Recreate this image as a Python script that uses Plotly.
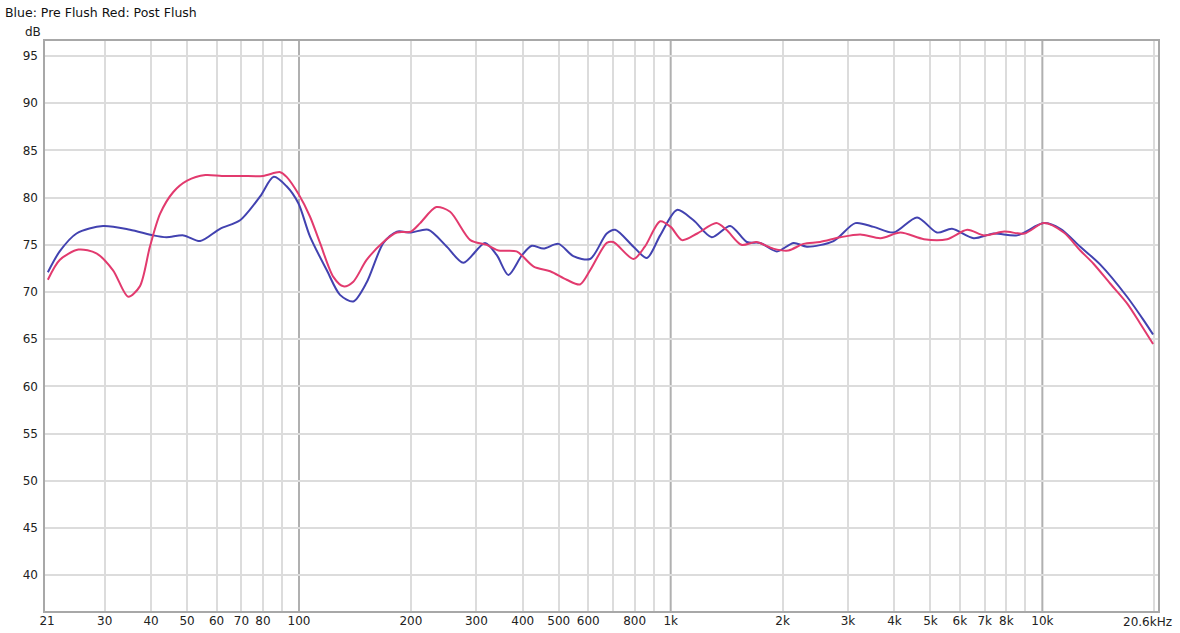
import numpy as np
import plotly.graph_objects as go

# ---- data ----
blue_freq = [21.1, 22.7, 25.2, 29.7, 35.1, 40.5, 44.0, 48.9, 54.2, 61.3, 69.4, 78.5, 85.5, 92.6, 99.6,
             107, 118.8, 128.9, 140, 152, 168.7, 183.3, 200, 222.7, 249.9, 276.8, 316.6, 340.6, 366,
             398, 423, 454.6, 499, 547, 607, 673, 709, 794, 863, 937, 1040, 1152, 1290, 1446, 1603,
             1741, 1931, 2142, 2326, 2743, 3139, 3517, 3981, 4603, 5206, 5714, 6535, 7397, 8551,
             10090, 11180, 12650, 14320, 16900, 18740, 19860]
blue_db = [72.1, 74.3, 76.2, 77.0, 76.6, 76.0, 75.8, 76.0, 75.4, 76.7, 77.6, 80.1, 82.2, 81.2, 79.4,
           75.9, 72.3, 69.7, 69.0, 71.0, 75.2, 76.4, 76.3, 76.6, 74.8, 73.1, 75.2, 73.9, 71.8,
           73.9, 74.9, 74.6, 75.1, 73.8, 73.5, 76.2, 76.6, 74.8, 73.6, 76.0, 78.7, 77.6, 75.8, 77.0, 75.3,
           75.2, 74.3, 75.2, 74.8, 75.4, 77.3, 76.9, 76.3, 77.9, 76.3, 76.7, 75.7, 76.2, 76.0,
           77.3, 76.7, 74.8, 72.9, 69.5, 67.0, 65.5]

red_freq = [21.1, 22.7, 25.5, 28.5, 31.6, 34.7, 37.3, 39.7, 42.3, 45.9, 50, 56, 62, 70, 80, 89, 92.6,
            99.6, 107, 113.9, 123.7, 131.7, 140, 152, 168.7, 183.3, 200, 211.8, 234, 255, 289, 320,
            344, 385, 428, 474, 525, 570, 607, 673, 701, 794, 852, 937, 1000, 1073, 1179, 1327, 1412,
            1550, 1700, 1888, 2073, 2275, 2524, 2859, 3239, 3670, 4152, 4801, 5546, 6280, 6980,
            7900, 8950, 10090, 11420, 12650, 13730, 15220, 16900, 18310, 19860]
red_db = [71.3, 73.4, 74.5, 74.1, 72.3, 69.5, 70.6, 74.8, 78.3, 80.6, 81.8, 82.4, 82.3, 82.3, 82.3, 82.7, 82.2,
          80.4, 78.0, 75.2, 71.6, 70.6, 71.1, 73.4, 75.3, 76.3, 76.4, 77.3, 79.0, 78.5, 75.5, 75.0,
          74.4, 74.3, 72.7, 72.2, 71.3, 70.8, 72.3, 75.2, 75.3, 73.5, 74.8, 77.5, 76.9, 75.5, 76.2, 77.3, 76.6,
          75.0, 75.3, 74.6, 74.4, 75.1, 75.3, 75.8, 76.1, 75.7, 76.3, 75.6, 75.6, 76.6, 76.0,
          76.4, 76.2, 77.3, 76.3, 74.4, 73.0, 70.9, 68.8, 66.7, 64.5]

x_tick_vals = [21, 30, 40, 50, 60, 70, 80, 100, 200, 300, 400, 500, 600, 800,
               1000, 2000, 3000, 4000, 5000, 6000, 7000, 8000, 10000]
x_tick_text = ["21", "30", "40", "50", "60", "70", "80", "100", "200", "300", "400", "500", "600", "800",
               "1k", "2k", "3k", "4k", "5k", "6k", "7k", "8k", "10k"]
x_grid_vals = [30, 40, 50, 60, 70, 80, 90, 200, 300, 400, 500, 600, 700, 800, 900,
               2000, 3000, 4000, 5000, 6000, 7000, 8000, 9000, 20000]
decade_vals = [100, 1000, 10000]
y_tick_vals = [40, 45, 50, 55, 60, 65, 70, 75, 80, 85, 90, 95]

f_min, f_max = 20.6, 20600
y_min, y_max = 36.1, 96.7

BLUE = "#4242b0"
RED = "#e23a6e"
FONT = "DejaVu Sans"
TF = dict(family=FONT, size=12, color="#222222")

fig = go.Figure()
fig.add_trace(go.Scatter(x=blue_freq, y=blue_db, mode="lines", name="Pre Flush",
                         line=dict(color=BLUE, width=2, shape="spline", smoothing=0.8)))
fig.add_trace(go.Scatter(x=red_freq, y=red_db, mode="lines", name="Post Flush",
                         line=dict(color=RED, width=2, shape="spline", smoothing=0.8)))

shapes = []
for d in decade_vals:
    shapes.append(dict(type="line", xref="x", yref="paper", x0=d, x1=d, y0=0, y1=1,
                       line=dict(color="#b0b0b0", width=2), layer="below"))
shapes.append(dict(type="rect", xref="paper", yref="paper", x0=0, x1=1, y0=0, y1=1,
                   line=dict(color="#a8a8a8", width=2), layer="above"))

fig.update_layout(
    width=1180, height=633,
    margin=dict(l=44, r=21, t=40, b=21, autoexpand=False),
    paper_bgcolor="white", plot_bgcolor="white",
    showlegend=False,
    font=TF,
    title=dict(text="Blue: Pre Flush Red: Post Flush", x=5/1180, xanchor="left",
               y=1-13/633, yanchor="middle", xref="container", yref="container",
               font=dict(family=FONT, size=12.5, color="#111111")),
    xaxis=dict(type="log", range=[np.log10(f_min), np.log10(f_max)],
               tickmode="array", tickvals=x_tick_vals, ticktext=x_tick_text,
               showgrid=False, zeroline=False, showline=False, ticks="",
               tickfont=TF,
               minor=dict(tickmode="array", tickvals=x_grid_vals, showgrid=True,
                          gridcolor="#dcdcdc", gridwidth=2, ticks=""),
               automargin=False),
    yaxis=dict(range=[y_min, y_max], tickmode="array", tickvals=y_tick_vals,
               showgrid=True, gridcolor="#dcdcdc", gridwidth=2, zeroline=False,
               showline=False, ticks="", ticklabelstandoff=5,
               tickfont=TF, automargin=False),
    shapes=shapes,
    annotations=[
        dict(text="dB", xref="paper", yref="paper", x=(33-44)/1115, y=(612-32)/572,
             showarrow=False, xanchor="center", yanchor="middle", font=TF),
        dict(text="20.6kHz", xref="x", yref="paper", x=np.log10(f_max), y=0,
             showarrow=False, xanchor="center", yanchor="top", yshift=-1, xshift=-12,
             font=TF),
    ],
)

fig.write_html("out.html", config={"displayModeBar": False},
               post_script="document.body.style.margin='0';document.body.style.padding='0';")
